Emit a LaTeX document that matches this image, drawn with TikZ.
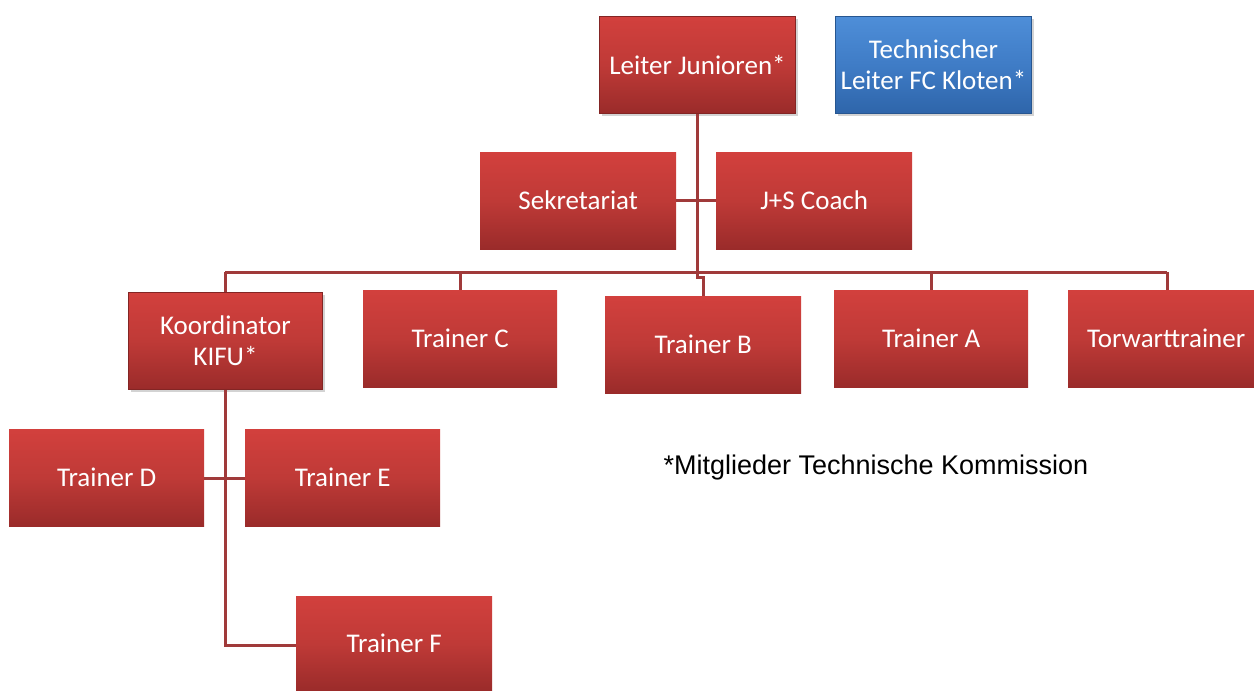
\documentclass[tikz,border=0pt]{standalone}
\usepackage{fontspec}
\newfontfamily\boxfont{Carlito}
\newfontfamily\notefont{Liberation Sans}
\usetikzlibrary{shadows}
\definecolor{redtop}{HTML}{D2403D}
\definecolor{redmid}{HTML}{BF3A37}
\definecolor{redbot}{HTML}{9A2B2A}
\definecolor{bluetop}{HTML}{4E8ED8}
\definecolor{bluemid}{HTML}{3F7CC6}
\definecolor{bluebot}{HTML}{2E65AA}
\definecolor{linkred}{HTML}{A03A3A}
\tikzset{
  unit/.style={rectangle, anchor=north west, inner sep=0pt,
    minimum width=196pt, minimum height=97pt, align=center,
    text=white, font=\boxfont\fontsize{27}{31}\selectfont,
    top color=redtop, bottom color=redbot, middle color=redmid},
  lead/.style={unit, draw=redbot!85!black, line width=1pt,
    drop shadow={opacity=0.35, shadow xshift=2pt, shadow yshift=-2pt}},
  bluelead/.style={lead, top color=bluetop, bottom color=bluebot,
    middle color=bluemid, draw=bluebot!85!black},
  link/.style={draw=linkred, line width=3pt}
}
\begin{document}
\begin{tikzpicture}[x=1pt,y=-1pt]
\useasboundingbox (0,0) rectangle (1254,691);
\clip (0,0) rectangle (1254,691);

% boxes
\node[lead]     (lj)   at (599,16)  {Leiter Junioren*};
\node[bluelead] (tl)   at (835,16)  {Technischer\\Leiter FC Kloten*};
\node[unit]     (sek)  at (480,152) {Sekretariat};
\node[unit]     (js)   at (716,152) {J+S Coach};
\node[lead, minimum width=194pt] (kifu) at (128,292) {Koordinator\\KIFU*};
\node[unit, minimum width=194pt] (tc) at (363,290) {Trainer C};
\node[unit]     (tb)   at (605,296) {Trainer B};
\node[unit, minimum width=194pt] (ta) at (834,290) {Trainer A};
\node[unit]     (tw)   at (1068,290) {Torwarttrainer};
\node[unit, minimum width=195pt] (td) at (9,429)   {Trainer D};
\node[unit, minimum width=195pt] (te) at (245,429) {Trainer E};
\node[unit, minimum width=196pt, minimum height=95pt] (tf) at (296,596) {Trainer F};

\node[font=\notefont\fontsize{27}{31}\selectfont, anchor=west] (note)
  at (660,468) {*Mitglieder Technische Kommission};

% junction points of the connectors
\coordinate (busL) at (225,272);
\coordinate (busR) at (1167,272);
\coordinate (jog) at (lj.south |- 0,277);
\coordinate (kbend) at (225,645);

% links
\draw[link] (lj.south) -- (jog) -| (tb.north);
\draw[link] (sek.east) -- (js.west);
\draw[link] (busL) -- (busR);
\draw[link] (busL) -- (kifu.north -| busL);
\draw[link] (tc.north |- busL) -- (tc.north);
\draw[link] (ta.north |- busL) -- (ta.north);
\draw[link] (busR) -- (busR |- tw.north);
\draw[link] (kifu.south -| busL) -- (kbend) -- (tf.west |- kbend);
\draw[link] (td.east |- 0,478) -- (te.west |- 0,478);
\end{tikzpicture}
\end{document}
